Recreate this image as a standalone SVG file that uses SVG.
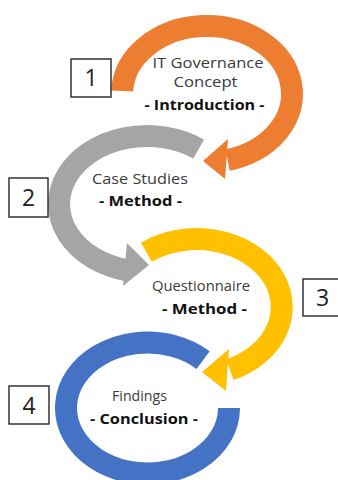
<svg xmlns="http://www.w3.org/2000/svg" width="338" height="480" viewBox="0 0 338 480">
  <style>
    .band { fill: none; stroke-width: 22; stroke-linecap: butt; }
    .orange { stroke: #ED7D31; } .orange-f { fill: #ED7D31; }
    .gray { stroke: #A5A5A5; }   .gray-f { fill: #A5A5A5; }
    .yellow { stroke: #FFC000; } .yellow-f { fill: #FFC000; }
    .blue { stroke: #4472C4; }   .blue-f { fill: #4472C4; }
    .box { fill: #fff; stroke: #262626; stroke-width: 1.4; }
    .num { font-family: "Open Sans", "Liberation Sans", sans-serif; font-size: 23px; fill: #222; text-anchor: middle; }
    .title { font-family: "Open Sans", "Liberation Sans", sans-serif; font-size: 14px; fill: #3a3a3a; text-anchor: middle; }
    .sub { font-family: "Open Sans", "Liberation Sans", sans-serif; font-size: 14px; font-weight: bold; fill: #111; text-anchor: middle; }
  </style>
  <rect width="338" height="480" fill="#fff"/>

  <!-- circular arrows linking the stages -->
  <g id="connectors">
    <path class="band blue" d="M229,408 A81.5,65.5 0 1 1 203.1,360.1"/>
    <path class="band yellow" d="M146.4,252.3 A85,68 0 1 1 229.9,369.7"/>
    <polygon class="yellow-f" points="229,349 202,372 226,391"/>
    <path class="band gray" d="M198.7,149 A88,68 0 1 0 127.2,270.3"/>
    <polygon class="gray-f" points="127,243 149,265 123,286"/>
    <path class="band orange" d="M122.1,91 A85,68 0 1 1 227.6,160"/>
    <polygon class="orange-f" points="228,139 203,161 225,179"/>
  </g>

  <g id="stage-1">
    <rect class="box" x="71" y="59" width="40" height="38"/>
    <text class="num" x="91" y="86">1</text>
    <text class="title" x="208" y="67.5" textLength="111" lengthAdjust="spacingAndGlyphs">IT Governance</text>
    <text class="title" x="205.5" y="87" textLength="64" lengthAdjust="spacingAndGlyphs">Concept</text>
    <text class="sub" x="204.5" y="110" textLength="120" lengthAdjust="spacingAndGlyphs">- Introduction -</text>
  </g>

  <g id="stage-2">
    <rect class="box" x="9" y="178" width="39" height="39"/>
    <text class="num" x="28.5" y="206">2</text>
    <text class="title" x="140" y="184" textLength="96" lengthAdjust="spacingAndGlyphs">Case Studies</text>
    <text class="sub" x="140.5" y="206" textLength="83" lengthAdjust="spacingAndGlyphs">- Method -</text>
  </g>

  <g id="stage-3">
    <rect class="box" x="303" y="279" width="40" height="37"/>
    <text class="num" x="322.5" y="306">3</text>
    <text class="title" x="201" y="291" textLength="98" lengthAdjust="spacingAndGlyphs">Questionnaire</text>
    <text class="sub" x="204.5" y="314" textLength="85" lengthAdjust="spacingAndGlyphs">- Method -</text>
  </g>

  <g id="stage-4">
    <rect class="box" x="9" y="386" width="40" height="38"/>
    <text class="num" x="29" y="413.5">4</text>
    <text class="title" x="139.5" y="401" textLength="55" lengthAdjust="spacingAndGlyphs">Findings</text>
    <text class="sub" x="144" y="424" textLength="108" lengthAdjust="spacingAndGlyphs">- Conclusion -</text>
  </g>
</svg>
